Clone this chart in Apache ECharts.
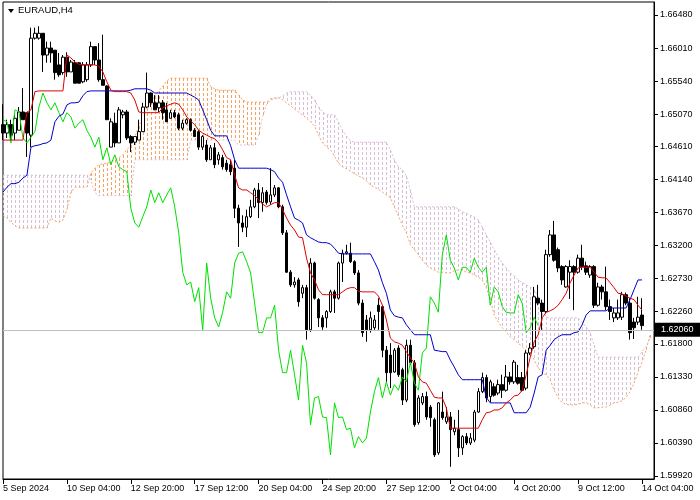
<!DOCTYPE html>
<html><head><meta charset="utf-8">
<script src="https://cdn.jsdelivr.net/npm/echarts@6/dist/echarts.min.js"></script>
<style>html,body{margin:0;padding:0;background:#fff}#c{width:700px;height:500px}</style>
</head><body><div id="c"></div>
<script>
// ---- data (EURAUD, H4) ----
const tickLabels = ['5 Sep 2024','10 Sep 04:00','12 Sep 20:00','17 Sep 12:00','20 Sep 04:00','24 Sep 20:00','27 Sep 12:00','2 Oct 04:00','4 Oct 20:00','9 Oct 12:00','14 Oct 04:00'];
const priceTicks = [1.66480,1.66010,1.65540,1.65070,1.64610,1.64140,1.63670,1.63200,1.62730,1.62260,1.61800,1.61330,1.60860,1.60390,1.59920];
const lastPrice = 1.62060;

const opens = [
1.6492,1.6480,1.6492,1.6480,1.6484,1.6510,1.6509,1.6477,1.6615,1.6615,
1.6622,1.6591,1.6601,1.6598,1.6577,1.6566,1.6588,1.6567,1.6580,1.6580,
1.6553,1.6556,1.6577,1.6603,1.6584,1.6556,1.6547,1.6460,1.6494,1.6466,
1.6506,1.6510,1.6475,1.6467,1.6470,1.6482,1.6517,1.6537,1.6523,1.6516,
1.6523,1.6513,1.6501,1.6509,1.6506,1.6487,1.6494,1.6499,1.6484,1.6482,
1.6460,1.6463,1.6442,1.6459,1.6442,1.6445,1.6437,1.6435,1.6430,1.6373,
1.6352,1.6346,1.6361,1.6375,1.6399,1.6381,1.6396,1.6382,1.6392,1.6402,
1.6375,1.6338,1.6282,1.6264,1.6271,1.6252,1.6260,1.6200,1.6295,1.6243,
1.6217,1.6217,1.6226,1.6254,1.6245,1.6295,1.6309,1.6309,1.6297,1.6281,
1.6238,1.6214,1.6200,1.6203,1.6235,1.6233,1.6171,1.6164,1.6140,1.6174,
1.6143,1.6100,1.6178,1.6153,1.6068,1.6096,1.6105,1.6090,1.6072,1.6025,
1.6083,1.6069,1.6076,1.6055,1.6058,1.6032,1.6048,1.6039,1.6043,1.6083,
1.6112,1.6132,1.6105,1.6119,1.6110,1.6122,1.6114,1.6133,1.6126,1.6132,
1.6132,1.6117,1.6167,1.6176,1.6245,1.6238,1.6226,1.6307,1.6335,1.6314,
1.6290,1.6261,1.6282,1.6290,1.6282,1.6302,1.6291,1.6278,1.6290,1.6235,
1.6261,1.6254,1.6233,1.6217,1.6217,1.6218,1.6250,1.6238,1.6211,1.6211,
1.6221];
const closes = [
1.6480,1.6492,1.6477,1.6501,1.6510,1.6499,1.6480,1.6615,1.6622,1.6622,
1.6591,1.6601,1.6594,1.6566,1.6563,1.6588,1.6567,1.6581,1.6551,1.6551,
1.6577,1.6577,1.6603,1.6584,1.6556,1.6548,1.6499,1.6496,1.6466,1.6513,
1.6510,1.6473,1.6466,1.6475,1.6482,1.6517,1.6537,1.6523,1.6513,1.6523,
1.6509,1.6496,1.6509,1.6503,1.6487,1.6494,1.6499,1.6484,1.6475,1.6460,
1.6475,1.6442,1.6459,1.6435,1.6449,1.6432,1.6428,1.6425,1.6373,1.6352,
1.6346,1.6361,1.6375,1.6399,1.6381,1.6395,1.6381,1.6392,1.6402,1.6375,
1.6338,1.6282,1.6264,1.6268,1.6240,1.6260,1.6200,1.6295,1.6245,1.6217,
1.6204,1.6226,1.6254,1.6245,1.6295,1.6309,1.6311,1.6297,1.6281,1.6238,
1.6196,1.6200,1.6217,1.6214,1.6226,1.6171,1.6139,1.6139,1.6171,1.6136,
1.6100,1.6178,1.6153,1.6065,1.6103,1.6105,1.6076,1.6075,1.6022,1.6096,
1.6075,1.6076,1.6058,1.6060,1.6032,1.6048,1.6039,1.6046,1.6083,1.6112,
1.6132,1.6103,1.6126,1.6107,1.6122,1.6114,1.6133,1.6126,1.6154,1.6124,
1.6114,1.6167,1.6174,1.6247,1.6238,1.6226,1.6307,1.6335,1.6299,1.6288,
1.6271,1.6290,1.6290,1.6282,1.6302,1.6290,1.6282,1.6290,1.6235,1.6261,
1.6254,1.6233,1.6226,1.6224,1.6224,1.6250,1.6238,1.6196,1.6203,1.6218,
1.6206];
const lows = [
1.6470,1.6473,1.6470,1.6470,1.6484,1.6499,1.6446,1.6460,1.6613,1.6613,
1.6567,1.6580,1.6580,1.6556,1.6560,1.6563,1.6560,1.6567,1.6551,1.6551,
1.6551,1.6553,1.6574,1.6577,1.6553,1.6548,1.6499,1.6460,1.6460,1.6466,
1.6501,1.6470,1.6453,1.6463,1.6470,1.6482,1.6516,1.6517,1.6513,1.6510,
1.6499,1.6496,1.6501,1.6501,1.6484,1.6484,1.6492,1.6482,1.6475,1.6456,
1.6456,1.6439,1.6442,1.6430,1.6435,1.6428,1.6425,1.6420,1.6359,1.6318,
1.6339,1.6332,1.6359,1.6373,1.6359,1.6368,1.6378,1.6378,1.6389,1.6373,
1.6335,1.6281,1.6261,1.6260,1.6233,1.6245,1.6186,1.6197,1.6243,1.6204,
1.6200,1.6203,1.6224,1.6224,1.6243,1.6268,1.6307,1.6295,1.6278,1.6235,
1.6190,1.6183,1.6196,1.6200,1.6200,1.6161,1.6126,1.6117,1.6139,1.6133,
1.6093,1.6097,1.6150,1.6062,1.6065,1.6093,1.6072,1.6062,1.6019,1.6022,
1.6072,1.6066,1.6005,1.6050,1.6019,1.6022,1.6036,1.6036,1.6040,1.6082,
1.6110,1.6097,1.6097,1.6105,1.6107,1.6103,1.6112,1.6122,1.6123,1.6122,
1.6112,1.6114,1.6164,1.6173,1.6235,1.6200,1.6223,1.6304,1.6297,1.6282,
1.6264,1.6260,1.6244,1.6228,1.6280,1.6285,1.6278,1.6274,1.6231,1.6233,
1.6243,1.6228,1.6214,1.6211,1.6214,1.6214,1.6235,1.6186,1.6187,1.6207,
1.6200];
const highs = [
1.6521,1.6499,1.6499,1.6506,1.6517,1.6544,1.6510,1.6630,1.6630,1.6632,
1.6622,1.6610,1.6610,1.6598,1.6594,1.6591,1.6595,1.6584,1.6584,1.6581,
1.6581,1.6581,1.6610,1.6603,1.6608,1.6620,1.6548,1.6501,1.6509,1.6517,
1.6513,1.6513,1.6477,1.6475,1.6499,1.6523,1.6566,1.6538,1.6534,1.6534,
1.6527,1.6523,1.6513,1.6513,1.6509,1.6499,1.6501,1.6501,1.6487,1.6484,
1.6477,1.6470,1.6463,1.6466,1.6453,1.6449,1.6442,1.6442,1.6442,1.6378,
1.6363,1.6371,1.6385,1.6402,1.6409,1.6403,1.6399,1.6430,1.6406,1.6403,
1.6378,1.6342,1.6285,1.6275,1.6274,1.6264,1.6264,1.6302,1.6297,1.6245,
1.6221,1.6228,1.6257,1.6257,1.6297,1.6314,1.6321,1.6324,1.6299,1.6285,
1.6243,1.6221,1.6226,1.6221,1.6245,1.6235,1.6177,1.6181,1.6174,1.6178,
1.6146,1.6186,1.6186,1.6157,1.6107,1.6110,1.6112,1.6093,1.6075,1.6097,
1.6112,1.6090,1.6083,1.6072,1.6086,1.6050,1.6053,1.6053,1.6086,1.6117,
1.6139,1.6136,1.6129,1.6124,1.6129,1.6136,1.6150,1.6140,1.6157,1.6150,
1.6140,1.6171,1.6181,1.6261,1.6264,1.6243,1.6314,1.6342,1.6355,1.6317,
1.6292,1.6292,1.6299,1.6292,1.6307,1.6321,1.6297,1.6292,1.6292,1.6267,
1.6264,1.6290,1.6243,1.6231,1.6243,1.6254,1.6253,1.6245,1.6217,1.6247,
1.6245];

const tenkan = [
1.6470,1.6470,1.6470,1.6470,1.6470,1.6470,1.6510,1.6513,1.6539,1.6540,
1.6540,1.6540,1.6540,1.6540,1.6540,1.6540,1.6591,1.6587,1.6581,1.6578,
1.6577,1.6577,1.6577,1.6577,1.6575,1.6567,1.6553,1.6541,1.6539,1.6539,
1.6539,1.6539,1.6537,1.6527,1.6510,1.6509,1.6509,1.6509,1.6509,1.6509,
1.6516,1.6519,1.6521,1.6523,1.6521,1.6513,1.6503,1.6497,1.6492,1.6484,
1.6480,1.6477,1.6474,1.6472,1.6466,1.6456,1.6445,1.6442,1.6420,1.6402,
1.6399,1.6399,1.6395,1.6391,1.6385,1.6379,1.6375,1.6378,1.6381,1.6381,
1.6371,1.6359,1.6349,1.6342,1.6332,1.6331,1.6302,1.6281,1.6271,1.6257,
1.6250,1.6250,1.6250,1.6250,1.6250,1.6254,1.6258,1.6260,1.6260,1.6255,
1.6254,1.6254,1.6254,1.6254,1.6248,1.6235,1.6214,1.6188,1.6183,1.6181,
1.6178,1.6169,1.6160,1.6153,1.6133,1.6126,1.6124,1.6114,1.6104,1.6103,
1.6103,1.6089,1.6060,1.6060,1.6060,1.6060,1.6060,1.6060,1.6060,1.6060,
1.6072,1.6082,1.6083,1.6086,1.6086,1.6089,1.6096,1.6100,1.6106,1.6107,
1.6114,1.6136,1.6161,1.6183,1.6193,1.6217,1.6225,1.6227,1.6230,1.6235,
1.6243,1.6252,1.6267,1.6278,1.6288,1.6289,1.6289,1.6289,1.6282,1.6275,
1.6274,1.6274,1.6267,1.6260,1.6252,1.6251,1.6248,1.6245,1.6243,1.6235,
1.6228];
const kijun = [
1.6396,1.6403,1.6408,1.6408,1.6410,1.6416,1.6420,1.6460,1.6462,1.6463,
1.6465,1.6466,1.6470,1.6496,1.6504,1.6507,1.6520,1.6523,1.6523,1.6524,
1.6533,1.6539,1.6540,1.6540,1.6540,1.6540,1.6540,1.6540,1.6540,1.6540,
1.6540,1.6540,1.6541,1.6543,1.6543,1.6543,1.6543,1.6541,1.6537,1.6537,
1.6537,1.6537,1.6537,1.6537,1.6537,1.6537,1.6537,1.6534,1.6531,1.6527,
1.6513,1.6499,1.6484,1.6476,1.6476,1.6476,1.6476,1.6462,1.6442,1.6430,
1.6430,1.6430,1.6430,1.6430,1.6430,1.6430,1.6430,1.6428,1.6425,1.6416,
1.6410,1.6392,1.6375,1.6359,1.6356,1.6352,1.6335,1.6331,1.6328,1.6325,
1.6324,1.6324,1.6322,1.6316,1.6309,1.6308,1.6308,1.6308,1.6308,1.6308,
1.6308,1.6308,1.6308,1.6297,1.6285,1.6267,1.6252,1.6228,1.6220,1.6218,
1.6217,1.6207,1.6200,1.6193,1.6193,1.6193,1.6193,1.6193,1.6171,1.6170,
1.6169,1.6169,1.6157,1.6147,1.6136,1.6129,1.6129,1.6129,1.6129,1.6129,
1.6129,1.6104,1.6096,1.6096,1.6096,1.6096,1.6096,1.6096,1.6082,1.6082,
1.6082,1.6082,1.6090,1.6110,1.6133,1.6136,1.6171,1.6178,1.6186,1.6190,
1.6193,1.6193,1.6193,1.6196,1.6197,1.6207,1.6221,1.6227,1.6227,1.6227,
1.6227,1.6227,1.6231,1.6231,1.6231,1.6231,1.6231,1.6243,1.6257,1.6271,
1.6271];
const chikou = [
1.6499,1.6496,1.6466,1.6513,1.6510,1.6473,1.6466,1.6474,1.6482,1.6517,
1.6537,1.6523,1.6513,1.6523,1.6509,1.6496,1.6509,1.6503,1.6487,1.6494,
1.6499,1.6484,1.6474,1.6460,1.6474,1.6442,1.6459,1.6435,1.6449,1.6432,
1.6428,1.6425,1.6373,1.6352,1.6346,1.6361,1.6375,1.6399,1.6381,1.6395,
1.6381,1.6392,1.6402,1.6375,1.6338,1.6282,1.6264,1.6268,1.6240,1.6260,
1.6200,1.6295,1.6245,1.6217,1.6204,1.6225,1.6254,1.6245,1.6295,1.6309,
1.6311,1.6297,1.6281,1.6238,1.6196,1.6196,1.6217,1.6217,1.6235,1.6171,
1.6139,1.6139,1.6171,1.6136,1.6100,1.6178,1.6153,1.6065,1.6103,1.6105,
1.6076,1.6075,1.6022,1.6096,1.6075,1.6076,1.6058,1.6060,1.6032,1.6048,
1.6039,1.6046,1.6083,1.6112,1.6132,1.6103,1.6126,1.6107,1.6122,1.6114,
1.6133,1.6126,1.6154,1.6124,1.6114,1.6167,1.6174,1.6247,1.6238,1.6225,
1.6307,1.6335,1.6299,1.6288,1.6271,1.6289,1.6289,1.6282,1.6302,1.6289,
1.6282,1.6289,1.6235,1.6261,1.6254,1.6233,1.6225,1.6224,1.6224,1.6250,
1.6238,1.6196,1.6203,1.6218,1.6206];
const spanA = [
1.6363,1.6359,1.6353,1.6348,1.6345,1.6345,1.6345,1.6345,1.6345,1.6345,
1.6345,1.6345,1.6359,1.6355,1.6353,1.6356,1.6371,1.6395,1.6403,1.6403,
1.6403,1.6403,1.6423,1.6430,1.6435,1.6436,1.6437,1.6439,1.6442,1.6445,
1.6449,1.6456,1.6463,1.6474,1.6490,1.6503,1.6516,1.6524,1.6533,1.6540,
1.6547,1.6554,1.6558,1.6558,1.6558,1.6558,1.6558,1.6558,1.6558,1.6558,
1.6558,1.6558,1.6546,1.6543,1.6541,1.6541,1.6541,1.6541,1.6541,1.6534,
1.6527,1.6524,1.6524,1.6524,1.6524,1.6524,1.6524,1.6529,1.6530,1.6530,
1.6527,1.6523,1.6519,1.6514,1.6510,1.6506,1.6501,1.6496,1.6490,1.6477,
1.6466,1.6460,1.6456,1.6447,1.6437,1.6432,1.6429,1.6426,1.6422,1.6419,
1.6416,1.6412,1.6406,1.6403,1.6400,1.6396,1.6392,1.6388,1.6375,1.6362,
1.6349,1.6338,1.6321,1.6314,1.6307,1.6299,1.6292,1.6288,1.6285,1.6282,
1.6282,1.6281,1.6281,1.6284,1.6285,1.6285,1.6282,1.6281,1.6278,1.6275,
1.6271,1.6260,1.6243,1.6221,1.6211,1.6203,1.6197,1.6190,1.6186,1.6181,
1.6176,1.6171,1.6167,1.6157,1.6146,1.6139,1.6136,1.6129,1.6114,1.6103,
1.6096,1.6094,1.6093,1.6093,1.6094,1.6096,1.6096,1.6093,1.6089,1.6089,
1.6090,1.6090,1.6093,1.6096,1.6097,1.6099,1.6104,1.6112,1.6124,1.6140,
1.6154,1.6171,1.6193];
const spanB = [
1.6420,1.6420,1.6420,1.6420,1.6420,1.6420,1.6420,1.6420,1.6420,1.6420,
1.6420,1.6420,1.6420,1.6420,1.6420,1.6420,1.6420,1.6420,1.6420,1.6420,
1.6420,1.6420,1.6413,1.6395,1.6391,1.6391,1.6391,1.6391,1.6391,1.6391,
1.6391,1.6391,1.6391,1.6442,1.6442,1.6442,1.6442,1.6442,1.6442,1.6442,
1.6442,1.6442,1.6442,1.6442,1.6442,1.6442,1.6442,1.6470,1.6470,1.6470,
1.6470,1.6470,1.6470,1.6470,1.6470,1.6470,1.6470,1.6470,1.6470,1.6463,
1.6463,1.6463,1.6463,1.6463,1.6477,1.6503,1.6521,1.6527,1.6529,1.6530,
1.6533,1.6537,1.6539,1.6539,1.6539,1.6539,1.6539,1.6533,1.6527,1.6517,
1.6510,1.6506,1.6506,1.6506,1.6496,1.6484,1.6476,1.6469,1.6467,1.6467,
1.6467,1.6467,1.6467,1.6467,1.6467,1.6467,1.6467,1.6456,1.6442,1.6432,
1.6428,1.6419,1.6399,1.6375,1.6375,1.6375,1.6375,1.6375,1.6375,1.6375,
1.6375,1.6375,1.6375,1.6375,1.6372,1.6368,1.6366,1.6363,1.6361,1.6356,
1.6346,1.6335,1.6325,1.6314,1.6304,1.6295,1.6288,1.6281,1.6277,1.6271,
1.6267,1.6264,1.6261,1.6257,1.6247,1.6231,1.6218,1.6217,1.6217,1.6217,
1.6217,1.6217,1.6217,1.6217,1.6217,1.6211,1.6204,1.6196,1.6178,1.6161,
1.6161,1.6161,1.6161,1.6161,1.6161,1.6161,1.6161,1.6161,1.6161,1.6161,
1.6169,1.6176,1.6188];

// ---- layout / style ----
const SLOTS = 164;               // visible bar slots (incl. right shift)
const Y_MIN = 1.59877, Y_MAX = 1.66665;
const FONT = '"Liberation Sans", Arial, sans-serif';
const SANDY = '#F4A460', THISTLE = '#D8BFD8';

const cats = Array.from({length: SLOTS}, (_, i) => String(i));
const candleData = opens.map((o, i) => [o, closes[i], lows[i], highs[i]]);
// cloud split by which span is on top
const cloudUp = [], cloudDown = [];
spanA.forEach((a, i) => {
  const b = spanB[i];
  if (a >= b) cloudUp.push([i, b, a]); else cloudDown.push([i, a, b]);
});

function hatch(color) {
  return (params, api) => {
    const i = api.value(0), lo = api.value(1), hi = api.value(2);
    const p1 = api.coord([i, hi]), p2 = api.coord([i, lo]);
    const x = Math.round(p1[0]) + 0.5;
    return {type: 'line', silent: true,
      shape: {x1: x, y1: Math.round(p1[1]), x2: x, y2: Math.round(p2[1])},
      style: {stroke: color, lineWidth: 1, lineDash: [3, 2]}};
  };
}

const chart = echarts.init(document.getElementById('c'), null, {renderer: 'canvas'});
chart.setOption({
  animation: false,
  backgroundColor: '#fff',
  title: {text: 'EURAUD,H4', left: 18, top: 5, padding: 0,
    textStyle: {fontSize: 9.5, fontWeight: 'normal', fontFamily: FONT, color: '#000'}},
  graphic: [{type: 'polygon', shape: {points: [[8, 9], [14, 9], [11, 13]]}, style: {fill: '#000'}, z: 100}],
  grid: {left: 3, top: 2, right: 46, bottom: 21, show: true, borderColor: '#000', borderWidth: 1, backgroundColor: 'transparent'},
  xAxis: {
    type: 'category', data: cats, boundaryGap: false,
    axisLine: {show: true, lineStyle: {color: '#000'}},
    axisTick: {show: true, interval: 15, length: 5, lineStyle: {color: '#000'}},
    axisLabel: {interval: 15, align: 'left', margin: 5, fontSize: 9, fontFamily: FONT, color: '#000',
      formatter: (v, idx) => tickLabels[idx / 16] || ''},
    splitLine: {show: false}
  },
  yAxis: {
    type: 'value', position: 'right', min: Y_MIN, max: Y_MAX,
    axisLine: {show: true, lineStyle: {color: '#000'}},
    axisTick: {show: true, length: 4, customValues: priceTicks, lineStyle: {color: '#000'}},
    axisLabel: {customValues: priceTicks, margin: 6, fontSize: 9, fontFamily: FONT, color: '#000',
      formatter: v => v.toFixed(5)},
    splitLine: {show: false}
  },
  series: [
    {type: 'custom', name: 'cloud up', z: 1, silent: true, data: cloudUp,
      encode: {x: 0, y: [1, 2]}, renderItem: hatch(SANDY)},
    {type: 'custom', name: 'cloud down', z: 1, silent: true, data: cloudDown,
      encode: {x: 0, y: [1, 2]}, renderItem: hatch(THISTLE)},
    {type: 'line', name: 'Senkou A', data: spanA, z: 2, showSymbol: false, silent: true,
      lineStyle: {color: SANDY, width: 1, type: [2, 2]}},
    {type: 'line', name: 'Senkou B', data: spanB, z: 2, showSymbol: false, silent: true,
      lineStyle: {color: THISTLE, width: 1, type: [2, 2]}},
    {
      type: 'candlestick', name: 'EURAUD', data: candleData, z: 3, barWidth: 3,
      itemStyle: {color: '#fff', color0: '#000', borderColor: '#000', borderColor0: '#000', borderWidth: 1},
      markLine: {
        symbol: 'none', silent: true, animation: false,
        lineStyle: {color: '#c0c0c0', width: 1, type: 'solid'},
        data: [{yAxis: lastPrice}],
        label: {position: 'end', distance: 1, formatter: lastPrice.toFixed(5), color: '#fff',
          backgroundColor: '#000', padding: [3, 8, 2, 6], fontSize: 9, fontFamily: FONT}
      }
    },
    {type: 'line', name: 'Chikou', data: chikou, z: 4, showSymbol: false, silent: true,
      lineStyle: {color: '#00e000', width: 1}},
    {type: 'line', name: 'Kijun', data: kijun, z: 4, showSymbol: false, silent: true,
      lineStyle: {color: '#0000cc', width: 1}},
    {type: 'line', name: 'Tenkan', data: tenkan, z: 4, showSymbol: false, silent: true,
      lineStyle: {color: '#e00000', width: 1}}
  ]
});
</script></body></html>
